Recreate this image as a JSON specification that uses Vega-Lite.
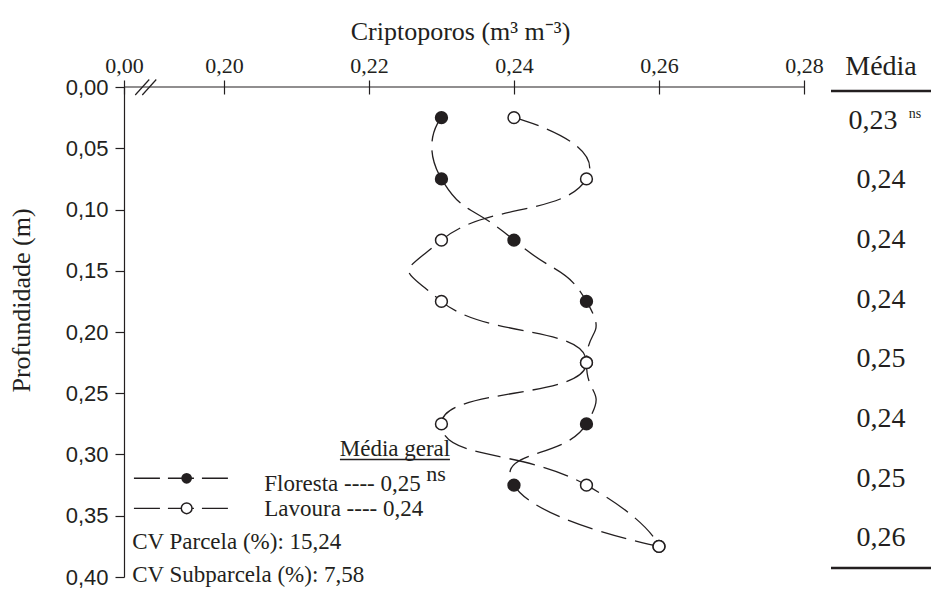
{
  "$schema": "https://vega.github.io/schema/vega-lite/v6.json",
  "padding": {"left": 8, "top": 18, "right": 0, "bottom": 0},
  "bounds": "flush",
  "spacing": 27,
  "config": {
    "view": {"stroke": null},
    "font": "Liberation Serif",
    "axis": {
      "grid": false,
      "domainColor": "#231f20",
      "tickColor": "#231f20",
      "labelColor": "#231f20",
      "titleColor": "#231f20",
      "domainWidth": 1.2,
      "tickWidth": 1.2
    }
  },
  "datasets": {
    "perfil": [
      {"serie": "Floresta", "depth": 0.025, "valor": 0.23},
      {"serie": "Floresta", "depth": 0.075, "valor": 0.23},
      {"serie": "Floresta", "depth": 0.125, "valor": 0.24},
      {"serie": "Floresta", "depth": 0.175, "valor": 0.25},
      {"serie": "Floresta", "depth": 0.225, "valor": 0.25},
      {"serie": "Floresta", "depth": 0.275, "valor": 0.25},
      {"serie": "Floresta", "depth": 0.325, "valor": 0.24},
      {"serie": "Floresta", "depth": 0.375, "valor": 0.26},
      {"serie": "Lavoura", "depth": 0.025, "valor": 0.24},
      {"serie": "Lavoura", "depth": 0.075, "valor": 0.25},
      {"serie": "Lavoura", "depth": 0.125, "valor": 0.23},
      {"serie": "Lavoura", "depth": 0.175, "valor": 0.23},
      {"serie": "Lavoura", "depth": 0.225, "valor": 0.25},
      {"serie": "Lavoura", "depth": 0.275, "valor": 0.23},
      {"serie": "Lavoura", "depth": 0.325, "valor": 0.25},
      {"serie": "Lavoura", "depth": 0.375, "valor": 0.26}
    ],
    "medias": [
      {"depth": 0.025, "valor": "0,23", "sig": "ns"},
      {"depth": 0.075, "valor": "0,24", "sig": ""},
      {"depth": 0.125, "valor": "0,24", "sig": ""},
      {"depth": 0.175, "valor": "0,24", "sig": ""},
      {"depth": 0.225, "valor": "0,25", "sig": ""},
      {"depth": 0.275, "valor": "0,24", "sig": ""},
      {"depth": 0.325, "valor": "0,25", "sig": ""},
      {"depth": 0.375, "valor": "0,26", "sig": ""}
    ],
    "limites": [{"depth": 0}, {"depth": 0.4}]
  },
  "hconcat": [
    {
      "width": 680,
      "height": 490,
      "layer": [
        {
          "data": {"name": "perfil"},
          "mark": {"type": "line", "interpolate": "cardinal", "tension": -0.8, "color": "#231f20", "strokeWidth": 1.3, "strokeDash": [26, 9]},
          "encoding": {
            "x": {
              "field": "valor", "type": "quantitative",
              "scale": {"domain": [0.18622, 0.28], "nice": false, "zero": false},
              "axis": {
                "orient": "top",
                "values": [0.18622, 0.2, 0.22, 0.24, 0.26, 0.28],
                "labelExpr": "datum.value < 0.19 ? '0,00' : replace(format(datum.value, '.2f'), '.', ',')",
                "domain": false,
                "offset": -7,
                "tickSize": 14,
                "labelFont": "Liberation Serif",
                "labelFontSize": 22,
                "labelPadding": 3,
                "labelFlush": false,
                "labelOverlap": false,
                "title": "Criptoporos (m³ m⁻³)",
                "titleFont": "Liberation Serif",
                "titleFontSize": 26,
                "titleFontWeight": "normal",
                "titlePadding": 10,
                "titleX": 336
              }
            },
            "y": {
              "field": "depth", "type": "quantitative",
              "scale": {"domain": [0, 0.4], "reverse": true, "nice": false, "zero": false},
              "axis": {
                "values": [0, 0.05, 0.1, 0.15, 0.2, 0.25, 0.3, 0.35, 0.4],
                "labelExpr": "replace(format(datum.value, '.2f'), '.', ',')",
                "tickSize": 9,
                "labelPadding": 7,
                "labelFont": "Liberation Sans",
                "labelFontSize": 22,
                "title": "Profundidade (m)",
                "titleFont": "Liberation Serif",
                "titleFontSize": 26,
                "titleFontWeight": "normal",
                "titlePadding": 31,
                "titleY": 213
              }
            },
            "detail": {"field": "serie"},
            "order": {"field": "depth", "type": "quantitative"}
          }
        },
        {
          "data": {"values": [{}]},
          "mark": {"type": "rule", "color": "#231f20", "strokeWidth": 1.2},
          "encoding": {"y": {"datum": 0}}
        },
        {
          "data": {"values": [{}]},
          "mark": {"type": "rule", "color": "#231f20", "strokeWidth": 1.2},
          "encoding": {
            "x": {"datum": 0.18777}, "x2": {"datum": 0.1897},
            "y": {"datum": 0.00653}, "y2": {"datum": -0.00612}
          }
        },
        {
          "data": {"values": [{}]},
          "mark": {"type": "rule", "color": "#231f20", "strokeWidth": 1.2},
          "encoding": {
            "x": {"datum": 0.18874}, "x2": {"datum": 0.19067},
            "y": {"datum": 0.00653}, "y2": {"datum": -0.00612}
          }
        },
        {
          "data": {"name": "perfil"},
          "mark": {"type": "point", "shape": "circle", "size": 140, "filled": false, "stroke": "#231f20", "strokeWidth": 1.5, "opacity": 1},
          "encoding": {
            "x": {"field": "valor", "type": "quantitative"},
            "y": {"field": "depth", "type": "quantitative"},
            "fill": {"field": "serie", "type": "nominal", "scale": {"domain": ["Floresta", "Lavoura"], "range": ["#231f20", "#ffffff"]}, "legend": null}
          }
        },
        {
          "data": {"values": [{}]},
          "mark": {"type": "rule", "color": "#231f20", "strokeWidth": 1.3, "strokeDash": [26, 8]},
          "encoding": {
            "x": {"datum": 0.18759}, "x2": {"datum": 0.20055},
            "y": {"datum": 0.3194}
          }
        },
        {
          "data": {"values": [{}]},
          "mark": {"type": "rule", "color": "#231f20", "strokeWidth": 1.3, "strokeDash": [26, 8]},
          "encoding": {
            "x": {"datum": 0.18759}, "x2": {"datum": 0.20055},
            "y": {"datum": 0.3439}
          }
        },
        {
          "data": {"values": [{}]},
          "mark": {"type": "point", "shape": "circle", "size": 115, "filled": true, "color": "#231f20", "opacity": 1},
          "encoding": {"x": {"datum": 0.19486}, "y": {"datum": 0.3194}}
        },
        {
          "data": {"values": [{}]},
          "mark": {"type": "point", "shape": "circle", "size": 115, "fill": "#ffffff", "stroke": "#231f20", "strokeWidth": 1.5, "opacity": 1},
          "encoding": {"x": {"datum": 0.19486}, "y": {"datum": 0.3439}}
        },
        {
          "data": {"values": [{}]},
          "mark": {"type": "text", "font": "Liberation Serif", "fontSize": 23, "align": "center", "baseline": "alphabetic", "color": "#231f20", "text": "Média geral"},
          "encoding": {"x": {"datum": 0.22359}, "y": {"datum": 0.3012}}
        },
        {
          "data": {"values": [{}]},
          "mark": {"type": "rule", "color": "#231f20", "strokeWidth": 1.3},
          "encoding": {
            "x": {"datum": 0.216}, "x2": {"datum": 0.23117},
            "y": {"datum": 0.3041}
          }
        },
        {
          "data": {"values": [{}]},
          "mark": {"type": "text", "font": "Liberation Serif", "fontSize": 22, "align": "center", "baseline": "alphabetic", "color": "#231f20", "text": "ns"},
          "encoding": {"x": {"datum": 0.22924}, "y": {"datum": 0.3214}}
        },
        {
          "data": {"values": [{}]},
          "mark": {"type": "text", "font": "Liberation Serif", "fontSize": 23, "align": "left", "baseline": "alphabetic", "color": "#231f20", "text": "Floresta ---- 0,25"},
          "encoding": {"x": {"datum": 0.20556}, "y": {"datum": 0.3296}}
        },
        {
          "data": {"values": [{}]},
          "mark": {"type": "text", "font": "Liberation Serif", "fontSize": 23, "align": "left", "baseline": "alphabetic", "color": "#231f20", "text": "Lavoura ---- 0,24"},
          "encoding": {"x": {"datum": 0.20556}, "y": {"datum": 0.35}}
        },
        {
          "data": {"values": [{}]},
          "mark": {"type": "text", "font": "Liberation Serif", "fontSize": 23, "align": "left", "baseline": "alphabetic", "color": "#231f20", "text": "CV Parcela (%): 15,24"},
          "encoding": {"x": {"datum": 0.18735}, "y": {"datum": 0.3771}}
        },
        {
          "data": {"values": [{}]},
          "mark": {"type": "text", "font": "Liberation Serif", "fontSize": 23, "align": "left", "baseline": "alphabetic", "color": "#231f20", "text": "CV Subparcela (%): 7,58"},
          "encoding": {"x": {"datum": 0.18735}, "y": {"datum": 0.4043}}
        }
      ]
    },
    {
      "width": 100,
      "height": 490,
      "title": {"text": "Média", "font": "Liberation Serif", "fontSize": 28, "fontWeight": "normal", "color": "#231f20", "offset": 6},
      "layer": [
        {
          "data": {"name": "limites"},
          "mark": {"type": "rule", "color": "#231f20", "strokeWidth": 2.6},
          "encoding": {
            "y": {"field": "depth", "type": "quantitative", "scale": {"domain": [-0.0034, 0.4076], "reverse": true, "nice": false, "zero": false}, "axis": null}
          }
        },
        {
          "data": {"name": "medias"},
          "transform": [{"filter": "datum.sig == ''"}],
          "mark": {"type": "text", "font": "Liberation Serif", "fontSize": 28, "baseline": "middle", "align": "center", "color": "#231f20"},
          "encoding": {
            "y": {"field": "depth", "type": "quantitative", "axis": null},
            "text": {"field": "valor"}
          }
        },
        {
          "data": {"name": "medias"},
          "transform": [{"filter": "datum.sig != ''"}],
          "mark": {"type": "text", "font": "Liberation Serif", "fontSize": 28, "baseline": "middle", "align": "center", "dx": -8, "color": "#231f20"},
          "encoding": {
            "y": {"field": "depth", "type": "quantitative", "axis": null},
            "text": {"field": "valor"}
          }
        },
        {
          "data": {"name": "medias"},
          "transform": [{"filter": "datum.sig != ''"}],
          "mark": {"type": "text", "font": "Liberation Serif", "fontSize": 14, "baseline": "middle", "align": "center", "dx": 34, "dy": -7, "color": "#231f20"},
          "encoding": {
            "y": {"field": "depth", "type": "quantitative", "axis": null},
            "text": {"field": "sig"}
          }
        }
      ]
    }
  ]
}
